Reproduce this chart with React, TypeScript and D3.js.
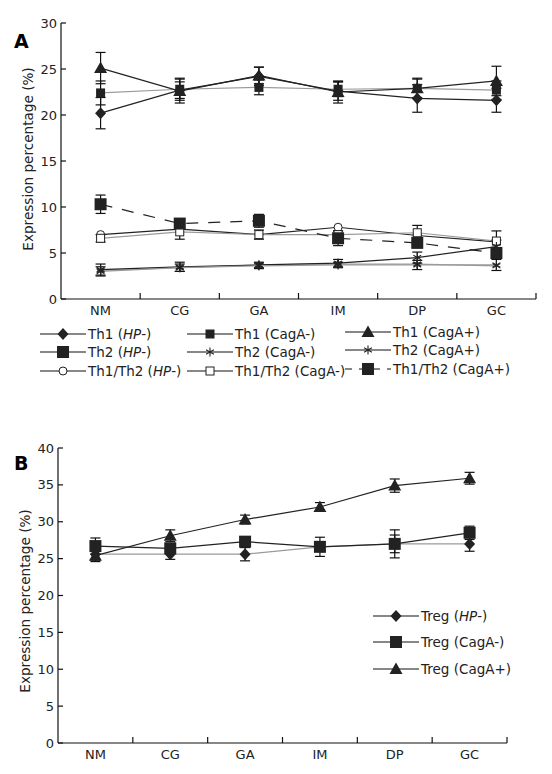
import React from "react";
import * as d3 from "d3";

const categories = ["NM", "CG", "GA", "IM", "DP", "GC"];

// Panel A
const th1HP = [20.2, 22.7, 24.2, 22.6, 21.8, 21.6];
const th1HPErr = [1.7, 0.9, 1.0, 1.0, 1.5, 1.3];
const th1CagANeg = [22.4, 22.8, 23.0, 22.8, 22.9, 22.7];
const th1CagANegErr = [1.3, 1.2, 0.8, 0.8, 1.0, 1.0];
const th1CagAPos = [25.1, 22.6, 24.3, 22.5, 22.9, 23.7];
const th1CagAPosErr = [1.7, 1.3, 0.9, 1.2, 1.1, 1.6];

const th2HP = [3.1, 3.4, 3.7, 3.8, 3.8, 3.6];
const th2CagANeg = [3.2, 3.5, 3.7, 3.9, 4.5, 5.7];
const th2CagANegErr = [0.6, 0.5, 0.3, 0.4, 0.6, 0.7];
const th2CagAPos = [3.0, 3.4, 3.6, 3.7, 3.7, 3.7];
const th2CagAPosErr = [0.5, 0.4, 0.3, 0.3, 0.5, 0.6];

const ratioHP = [7.0, 7.6, 7.0, 7.8, 6.9, 6.2];
const ratioCagANeg = [6.6, 7.3, 7.0, 7.0, 7.2, 6.3];
const ratioCagANegErr = [0.4, 0.8, 0.5, 0.4, 0.8, 1.1];
const ratioCagAPos = [10.3, 8.2, 8.5, 6.6, 6.1, 5.0];
const ratioCagAPosErr = [1.0, 0.5, 0.7, 0.8, 0.5, 0.6];

// Panel B
const tregHP = [25.6, 25.6, 25.6, 26.6, 27.0, 27.0];
const tregHPErr = [0.8, 0.7, 0.9, 0.5, 1.9, 1.0];
const tregCagANeg = [26.7, 26.4, 27.3, 26.6, 27.0, 28.5];
const tregCagANegErr = [1.1, 0.5, 0.6, 1.3, 1.2, 0.9];
const tregCagAPos = [25.4, 28.1, 30.3, 32.0, 34.9, 35.9];
const tregCagAPosErr = [0.8, 0.8, 0.6, 0.6, 0.9, 0.8];

const ticksA = [0, 5, 10, 15, 20, 25, 30];
const ticksB = [0, 5, 10, 15, 20, 25, 30, 35, 40];

const FONT = "DejaVu Sans, Verdana, sans-serif";
const DARK = "#222";
const GRAY = "#9a9a9a";

type Shape = "diamond" | "square" | "bigsquare" | "triangle" | "star" | "circle" | "wsquare" | "none";

function Marker({ shape, x, y }: { shape: Shape; x: number; y: number }) {
  switch (shape) {
    case "diamond":
      return <path d={`M${x},${y - 6}L${x + 5.5},${y}L${x},${y + 6}L${x - 5.5},${y}Z`} fill={DARK} />;
    case "square":
      return <rect x={x - 4.5} y={y - 4.5} width={9} height={9} fill={DARK} />;
    case "bigsquare":
      return <rect x={x - 6} y={y - 6} width={12} height={12} fill={DARK} />;
    case "triangle":
      return <path d={`M${x},${y - 6.5}L${x + 6.5},${y + 5}L${x - 6.5},${y + 5}Z`} fill={DARK} />;
    case "circle":
      return <circle cx={x} cy={y} r={4} fill="#fff" stroke={DARK} strokeWidth={1} />;
    case "wsquare":
      return <rect x={x - 4} y={y - 4} width={8} height={8} fill="#fff" stroke={DARK} strokeWidth={1} />;
    case "star": {
      const r = 4.5;
      const segs = [90, 30, 150].map((a) => {
        const rad = (a * Math.PI) / 180;
        const dx = r * Math.cos(rad);
        const dy = r * Math.sin(rad);
        return `M${x - dx},${y - dy}L${x + dx},${y + dy}`;
      });
      return <path d={segs.join("")} stroke={DARK} strokeWidth={1.1} fill="none" />;
    }
    default:
      return null;
  }
}

interface Series {
  values: number[];
  err?: number[];
  shape: Shape;
  color: string;
  dash?: string;
}

function Panel({
  series,
  yDomain,
  ticks,
  left,
  right,
  top,
  bottom,
  letter,
  letterY,
  labelX,
  labelY,
}: {
  series: Series[];
  yDomain: [number, number];
  ticks: number[];
  left: number;
  right: number;
  top: number;
  bottom: number;
  letter: string;
  letterY: number;
  labelX: number;
  labelY: number;
}) {
  const x = d3.scaleBand<string>().domain(categories).range([left, right]);
  const bw = x.bandwidth();
  const cx = (c: string) => (x(c) as number) + bw / 2;
  const y = d3.scaleLinear().domain(yDomain).range([bottom, top]);
  const line = d3
    .line<number>()
    .x((_, i) => cx(categories[i]))
    .y((v) => y(v));
  return (
    <g>
      <text x={14} y={letterY} fontFamily={FONT} fontWeight="bold" fontSize={19}>
        {letter}
      </text>
      <text
        transform={`translate(${labelX},${labelY}) rotate(-90)`}
        textAnchor="middle"
        fontFamily={FONT}
        fontSize={13.6}
        fill="#222"
      >
        Expression percentage (%)
      </text>
      {/* axes */}
      <line x1={left} x2={left} y1={top} y2={bottom} stroke="#111" strokeWidth={1.2} />
      <line x1={left} x2={right} y1={bottom} y2={bottom} stroke="#111" strokeWidth={1.2} />
      {ticks.map((t) => (
        <g key={t}>
          <line x1={left} x2={left + 5} y1={y(t)} y2={y(t)} stroke="#111" strokeWidth={1.2} />
          <text
            x={left - 4}
            y={y(t)}
            dy="0.35em"
            textAnchor="end"
            fontFamily={FONT}
            fontSize={13}
            fill="#222"
          >
            {t}
          </text>
        </g>
      ))}
      {categories.map((c) => (
        <g key={c}>
          <line
            x1={(x(c) as number) + bw}
            x2={(x(c) as number) + bw}
            y1={bottom}
            y2={bottom - 6}
            stroke="#111"
            strokeWidth={1.2}
          />
          <text x={cx(c)} y={bottom + 16} textAnchor="middle" fontFamily={FONT} fontSize={13} fill="#222">
            {c}
          </text>
        </g>
      ))}
      {series.map((s, si) => (
        <path
          key={"l" + si}
          d={line(s.values) as string}
          fill="none"
          stroke={s.color}
          strokeWidth={1.2}
          strokeDasharray={s.dash}
        />
      ))}
      {series.map((s, si) =>
        s.err
          ? s.values.map((v, i) => {
              const px = cx(categories[i]);
              const e = s.err![i];
              return (
                <g key={"e" + si + i} stroke="#111" strokeWidth={1.2}>
                  <line x1={px} x2={px} y1={y(v - e)} y2={y(v + e)} />
                  <line x1={px - 5} x2={px + 5} y1={y(v + e)} y2={y(v + e)} />
                  <line x1={px - 5} x2={px + 5} y1={y(v - e)} y2={y(v - e)} />
                </g>
              );
            })
          : null
      )}
      {series.map((s, si) =>
        s.values.map((v, i) => <Marker key={"m" + si + i} shape={s.shape} x={cx(categories[i])} y={y(v)} />)
      )}
    </g>
  );
}

function LegendItem({
  x,
  y,
  shape,
  label,
  dash,
}: {
  x: number;
  y: number;
  shape: Shape;
  label: React.ReactNode;
  dash?: string;
}) {
  return (
    <g>
      <line x1={x} x2={x + 46} y1={y} y2={y} stroke="#111" strokeWidth={1.2} strokeDasharray={dash} />
      <Marker shape={shape} x={x + 23} y={y} />
      <text x={x + 48} y={y} dy="0.35em" fontFamily={FONT} fontSize={13.5} fill="#222">
        {label}
      </text>
    </g>
  );
}

export default function App() {
  const seriesA: Series[] = [
    { values: ratioHP, shape: "circle", color: DARK },
    { values: ratioCagANeg, err: ratioCagANegErr, shape: "wsquare", color: GRAY },
    { values: ratioCagAPos, err: ratioCagAPosErr, shape: "bigsquare", color: DARK, dash: "12,10" },
    { values: th2HP, shape: "star", color: GRAY },
    { values: th2CagANeg, err: th2CagANegErr, shape: "star", color: DARK },
    { values: th2CagAPos, err: th2CagAPosErr, shape: "star", color: GRAY },
    { values: th1CagANeg, err: th1CagANegErr, shape: "square", color: GRAY },
    { values: th1HP, err: th1HPErr, shape: "diamond", color: DARK },
    { values: th1CagAPos, err: th1CagAPosErr, shape: "triangle", color: DARK },
  ];
  const seriesB: Series[] = [
    { values: tregHP, err: tregHPErr, shape: "diamond", color: GRAY },
    { values: tregCagANeg, err: tregCagANegErr, shape: "bigsquare", color: DARK },
    { values: tregCagAPos, err: tregCagAPosErr, shape: "triangle", color: DARK },
  ];
  return (
    <svg width={536} height={766} style={{ display: "block" }}>
      <g transform="translate(-8,-8)">
        <rect x={0} y={0} width={552} height={774} fill="#fff" />
        <Panel
          series={seriesA}
          yDomain={[0, 30]}
          ticks={ticksA}
          left={61}
          right={536}
          top={23}
          bottom={299}
          letter="A"
          letterY={48}
          labelX={33}
          labelY={159}
        />
        <LegendItem x={40} y={334} shape="diamond" label={<>Th1 (<tspan fontStyle="italic">HP</tspan>-)</>} />
        <LegendItem x={40} y={352} shape="bigsquare" label={<>Th2 (<tspan fontStyle="italic">HP</tspan>-)</>} />
        <LegendItem x={40} y={371} shape="circle" label={<>Th1/Th2 (<tspan fontStyle="italic">HP</tspan>-)</>} />
        <LegendItem x={187} y={334} shape="square" label="Th1 (CagA-)" />
        <LegendItem x={187} y={352} shape="star" label="Th2 (CagA-)" />
        <LegendItem x={187} y={371} shape="wsquare" label="Th1/Th2 (CagA-)" />
        <LegendItem x={345} y={332} shape="triangle" label="Th1 (CagA+)" />
        <LegendItem x={345} y={350} shape="star" label="Th2 (CagA+)" />
        <LegendItem x={345} y={369} shape="bigsquare" label="Th1/Th2 (CagA+)" dash="7,7" />

        <Panel
          series={seriesB}
          yDomain={[0, 40]}
          ticks={ticksB}
          left={58}
          right={507}
          top={448}
          bottom={743}
          letter="B"
          letterY={470}
          labelX={30}
          labelY={601}
        />
        <LegendItem x={373} y={616} shape="diamond" label={<>Treg (<tspan fontStyle="italic">HP</tspan>-)</>} />
        <LegendItem x={373} y={642} shape="bigsquare" label="Treg (CagA-)" />
        <LegendItem x={373} y={669} shape="triangle" label="Treg (CagA+)" />
      </g>
    </svg>
  );
}
